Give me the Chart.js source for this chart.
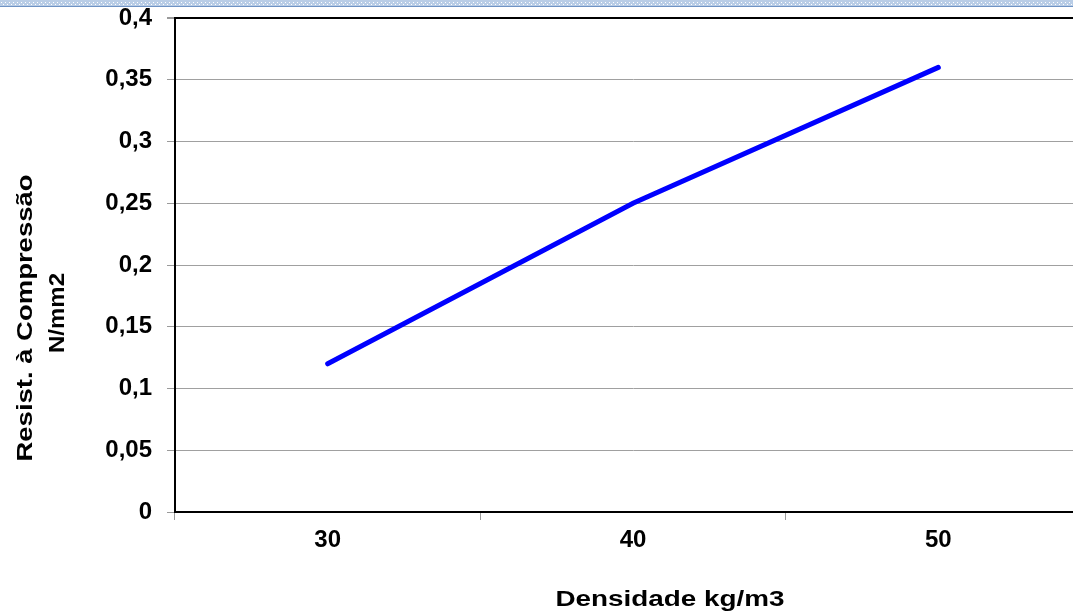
<!DOCTYPE html>
<html>
<head>
<meta charset="utf-8">
<script src="https://cdn.jsdelivr.net/npm/chart.js@4/dist/chart.umd.min.js"></script>
<style>
  html, body { margin: 0; padding: 0; background: #fff; overflow: hidden; }
  #wrap { width: 1091px; height: 615px; position: relative; }
</style>
</head>
<body>
<div id="wrap"><canvas id="chart1"></canvas></div>
<script>
// data
const densidades = ['30', '40', '50'];
const resistencia = [0.12, 0.25, 0.36];
const yTickLabels = ['0', '0,05', '0,1', '0,15', '0,2', '0,25', '0,3', '0,35', '0,4'];

const xTitle = 'Densidade kg/m3';
const yTitle = ['Resist. à Compressão', 'N/mm2'];

const FONT = '"Liberation Sans", Arial, sans-serif';

// draws text stretched along its direction to a given width (the old excel titles look like that)
function stretchedText(ctx, text, x, y, width) {
  const w = ctx.measureText(text).width;
  ctx.save();
  ctx.translate(x, y);
  ctx.scale(width / w, 1);
  ctx.fillText(text, 0, 0);
  ctx.restore();
}

// blue stripe on top + axis titles
const decor = {
  id: 'decor',
  beforeDraw(chart) {
    const ctx = chart.ctx;
    ctx.save();
    ctx.fillStyle = '#b9cde6';
    ctx.fillRect(0, 0, chart.width, 7);
    ctx.fillStyle = '#ffffff';
    for (let x = 1; x < chart.width; x += 4) {
      ctx.fillRect(x, 2, 1, 1);
      ctx.fillRect(x + 2, 4, 1, 1);
    }
    ctx.fillStyle = '#6f93c4';
    ctx.fillRect(0, 6, chart.width, 1);
    ctx.restore();
  },
  afterDraw(chart) {
    const ctx = chart.ctx;
    ctx.save();
    ctx.fillStyle = '#000';
    ctx.font = 'bold 22px ' + FONT;
    ctx.textAlign = 'center';
    ctx.textBaseline = 'middle';
    stretchedText(ctx, xTitle, 670, 600, 229);
    ctx.translate(0, 318);
    ctx.rotate(-Math.PI / 2);
    stretchedText(ctx, yTitle[0], 0, 26, 287);
    stretchedText(ctx, yTitle[1], 5, 58, 80);
    ctx.restore();
  }
};

const config = {
  type: 'line',
  data: {
    labels: densidades,
    datasets: [{
      data: resistencia,
      borderColor: '#0000ff',
      backgroundColor: '#0000ff',
      borderWidth: 5,
      pointRadius: 0,
      tension: 0,
      borderCapStyle: 'round'
    }]
  },
  options: {
    responsive: true,
    maintainAspectRatio: false,
    animation: false,
    layout: { padding: { top: 18, left: 0, right: 0, bottom: 0 } },
    plugins: { legend: { display: false }, tooltip: { enabled: false } },
    scales: {
      x: {
        offset: true,
        afterFit(scale) {
          scale.height = 103;
          scale.paddingLeft = 0;
          scale.paddingRight = 0;
        },
        grid: {
          offset: true,
          drawOnChartArea: false,
          drawTicks: true,
          tickLength: 8,
          tickColor: '#9a9a9a'
        },
        border: { display: true, color: '#000', width: 2 },
        ticks: {
          color: '#000',
          padding: 6,
          maxRotation: 0,
          font: { family: FONT, size: 24, weight: 'bold' }
        }
      },
      y: {
        min: 0,
        max: 0.4,
        afterFit(scale) {
          scale.width = 175;
          scale.paddingTop = 0;
          scale.paddingBottom = 0;
        },
        afterBuildTicks(scale) {
          scale.ticks = yTickLabels.map((t, i) => ({ value: i * 0.05 }));
        },
        grid: {
          color(c) {
            if (c.index === 0) return 'rgba(0,0,0,0)';
            if (c.index === yTickLabels.length - 1) return '#000';
            return '#a0a0a0';
          },
          lineWidth(c) { return c.index === yTickLabels.length - 1 ? 2 : 1; },
          tickLength: 8,
          tickColor: '#9a9a9a'
        },
        border: { display: true, color: '#000', width: 2 },
        ticks: {
          color: '#000',
          padding: 15,
          font: { family: FONT, size: 24, weight: 'bold' },
          callback(value, index) { return yTickLabels[index]; }
        }
      }
    }
  },
  plugins: [decor]
};

const myChart = new Chart(document.getElementById('chart1'), config);
</script>
</body>
</html>
